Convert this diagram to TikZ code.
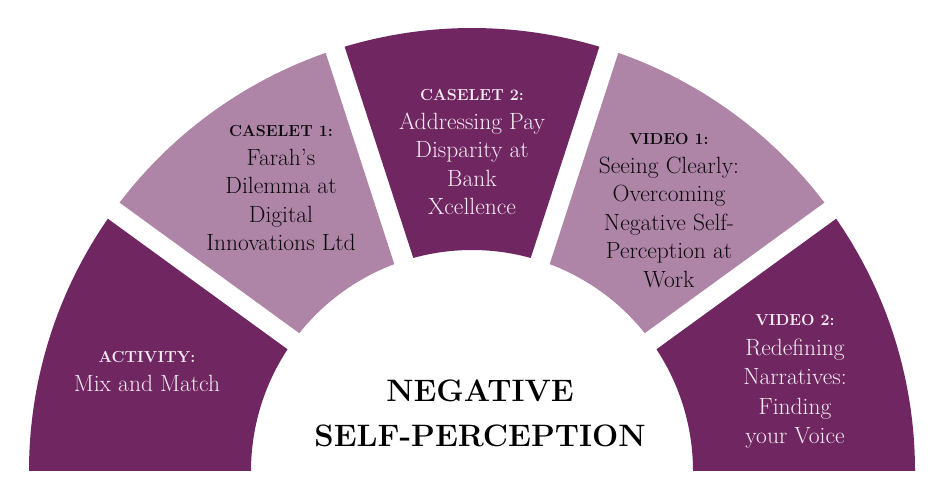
\documentclass[tikz,border=0pt]{standalone}
\usepackage{fontspec}
\usepackage{array}
\definecolor{darkplum}{RGB}{111,38,97}
\definecolor{lightplum}{RGB}{174,133,166}
\definecolor{paletext}{RGB}{246,236,243}
\definecolor{inktext}{RGB}{12,8,12}
\newcommand{\hdr}[1]{{\fontsize{16}{28.5}\selectfont\bfseries #1}}
\begin{document}
\begin{tikzpicture}[x=1pt,y=1pt,
  seclabel/.style={anchor=base,inner sep=0pt,font=\fontsize{23.5}{28.5}\selectfont},
  darklabel/.style={seclabel,text=paletext},
  lightlabel/.style={seclabel,text=inktext},
  titlelabel/.style={anchor=base,inner sep=0pt,text=black,font=\fontsize{31}{45}\selectfont\bfseries}]
\useasboundingbox (0,0) rectangle (944,500);
\fill[white] (0,0) rectangle (944,500);
\coordinate (C) at (472,29);
% sector 1 (right)
\fill[darkplum] ([shift={(C)}]0:443pt) arc[start angle=0,end angle=34.71,radius=443pt]
  -- ([shift={(C)}]33.41:221pt) arc[start angle=33.41,end angle=0,radius=221pt] -- cycle;
% sector 2
\fill[lightplum] ([shift={(C)}]37.29:443pt) arc[start angle=37.29,end angle=70.71,radius=443pt]
  -- ([shift={(C)}]69.41:221pt) arc[start angle=69.41,end angle=38.59,radius=221pt] -- cycle;
% sector 3 (top)
\fill[darkplum] ([shift={(C)}]73.29:443pt) arc[start angle=73.29,end angle=106.71,radius=443pt]
  -- ([shift={(C)}]105.41:221pt) arc[start angle=105.41,end angle=74.59,radius=221pt] -- cycle;
% sector 4
\fill[lightplum] ([shift={(C)}]109.29:443pt) arc[start angle=109.29,end angle=142.71,radius=443pt]
  -- ([shift={(C)}]141.41:221pt) arc[start angle=141.41,end angle=110.59,radius=221pt] -- cycle;
% sector 5 (left)
\fill[darkplum] ([shift={(C)}]145.29:443pt) arc[start angle=145.29,end angle=180,radius=443pt]
  -- ([shift={(C)}]180:221pt) arc[start angle=180,end angle=146.59,radius=221pt] -- cycle;

\node[darklabel] (activity) at (147,137)
  {\begin{tabular}[t]{@{}c@{}}\hdr{ACTIVITY:}\\Mix and Match\end{tabular}};
\node[lightlabel] (caselet1) at (281,363)
  {\begin{tabular}[t]{@{}c@{}}\hdr{CASELET 1:}\\Farah’s\\Dilemma at\\Digital\\Innovations Ltd\end{tabular}};
\node[darklabel] (caselet2) at (472,399)
  {\begin{tabular}[t]{@{}c@{}}\hdr{CASELET 2:}\\Addressing Pay\\Disparity at\\Bank\\Xcellence\end{tabular}};
\node[lightlabel] (video1) at (669,355)
  {\begin{tabular}[t]{@{}c@{}}\hdr{VIDEO 1:}\\Seeing Clearly:\\Overcoming\\Negative Self-\\Perception at\\Work\end{tabular}};
\node[darklabel,font=\fontsize{23.5}{29.5}\selectfont] (video2) at (795,174)
  {\begin{tabular}[t]{@{}c@{}}\hdr{VIDEO 2:}\\Redefining\\Narratives:\\Finding\\your Voice\end{tabular}};
\node[titlelabel] (title) at (480,98)
  {\begin{tabular}[t]{@{}c@{}}NEGATIVE\\SELF-PERCEPTION\end{tabular}};
\end{tikzpicture}
\end{document}
